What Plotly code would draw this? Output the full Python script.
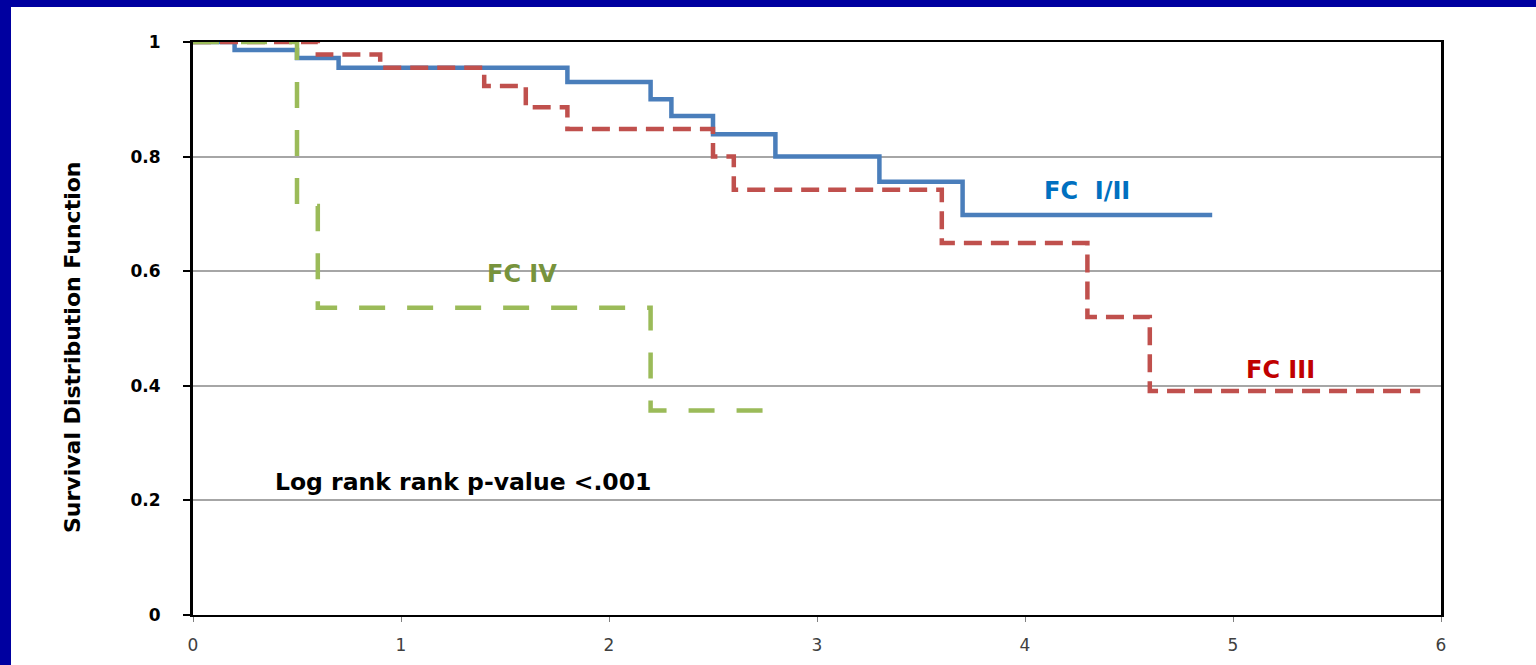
import plotly.graph_objects as go

# Kaplan-Meier step estimates by functional class (time in years)
fc12_time = [0, 0.2, 0.5, 0.7, 1.8, 2.2, 2.3, 2.5, 2.8, 3.3, 3.7, 4.9]
fc12_surv = [1, 0.986, 0.972, 0.955, 0.93, 0.90, 0.871, 0.839, 0.80, 0.756, 0.698, 0.698]

fc3_time = [0, 0.6, 0.9, 1.4, 1.6, 1.8, 2.5, 2.6, 3.6, 4.3, 4.6, 5.9]
fc3_surv = [1, 0.978, 0.955, 0.923, 0.886, 0.848, 0.80, 0.742, 0.649, 0.52, 0.391, 0.391]

fc4_time = [0, 0.5, 0.6, 2.2, 2.8]
fc4_surv = [1, 0.714, 0.536, 0.357, 0.357]

x_ticks = [0, 1, 2, 3, 4, 5, 6]
y_ticks = [0, 0.2, 0.4, 0.6, 0.8, 1]
y_tick_text = ["0", "0.2", "0.4", "0.6", "0.8", "1"]

W, H = 1536, 665
ML, MR, MT, MB = 193, 95, 42, 50
PW, PH = W - ML - MR, H - MT - MB

fig = go.Figure()

fig.add_trace(go.Scatter(
    x=fc12_time, y=fc12_surv, mode="lines", line_shape="hv",
    line=dict(color="#4A7EBB", width=4.5), name="FC I/II"))
fig.add_trace(go.Scatter(
    x=fc3_time, y=fc3_surv, mode="lines", line_shape="hv",
    line=dict(color="#C0504D", width=4.5, dash="18px,9px"), name="FC III"))
fig.add_trace(go.Scatter(
    x=fc4_time, y=fc4_surv, mode="lines", line_shape="hv",
    line=dict(color="#9BBB59", width=4.5, dash="26px,22px"), name="FC IV"))

label_font = "DejaVu Sans"
annotations = [
    dict(x=4.3, y=0.74, text="FC&nbsp;&nbsp;I/II", font=dict(color="#0070C0", size=24, family=label_font, weight="bold")),
    dict(x=5.23, y=0.427, text="FC III", font=dict(color="#C00000", size=24, family=label_font, weight="bold")),
    dict(x=1.58, y=0.595, text="FC IV", font=dict(color="#77933C", size=24, family=label_font, weight="bold")),
    dict(x=1.3, y=0.232, text="Log rank rank p-value &lt;.001", font=dict(color="#000000", size=23.5, family=label_font, weight="bold")),
]
for a in annotations:
    a.update(xref="x", yref="y", showarrow=False, xanchor="center", yanchor="middle")

annotations.append(dict(
    x=(72 - ML) / PW, y=(H - MB - 348) / PH, xref="paper", yref="paper",
    text="Survival Distribution Function", textangle=-90, showarrow=False,
    xanchor="center", yanchor="middle",
    font=dict(family="DejaVu Sans", size=22, color="#000000", weight="bold")))

# dark blue frame along top and left edges
shapes = [
    dict(type="rect", xref="paper", yref="paper", layer="above",
         x0=-ML / PW, x1=1 + MR / PW, y0=(H - MB - 7) / PH, y1=(H - MB) / PH,
         fillcolor="#0000A0", line=dict(width=0)),
    dict(type="rect", xref="paper", yref="paper", layer="above",
         x0=-ML / PW, x1=(11 - ML) / PW, y0=-MB / PH, y1=(H - MB) / PH,
         fillcolor="#0000A0", line=dict(width=0)),
]

fig.update_layout(
    width=W, height=H,
    margin=dict(l=ML, r=MR, t=MT, b=MB, pad=0, autoexpand=False),
    paper_bgcolor="white", plot_bgcolor="white",
    showlegend=False,
    annotations=annotations, shapes=shapes,
    xaxis=dict(range=[0, 6], tickvals=x_ticks, ticks="outside", ticklen=5,
               tickcolor="#808080", tickwidth=1, showgrid=False, zeroline=False,
               showline=True, linecolor="black", linewidth=2, mirror=True,
               layer="below traces", ticklabelstandoff=9, automargin=False,
               tickfont=dict(family="DejaVu Sans", size=17, color="#404040")),
    yaxis=dict(range=[0, 1], tickvals=y_ticks, ticktext=y_tick_text, ticks="outside",
               ticklen=7, tickcolor="black", tickwidth=2, showgrid=True,
               gridcolor="#A6A6A6", gridwidth=1.5, zeroline=False,
               showline=True, linecolor="black", linewidth=3, mirror=True,
               layer="below traces", ticklabelstandoff=19, automargin=False,
               tickfont=dict(family="DejaVu Sans", size=17, color="#000000", weight="bold")),
)

fig.write_html("out.html")
